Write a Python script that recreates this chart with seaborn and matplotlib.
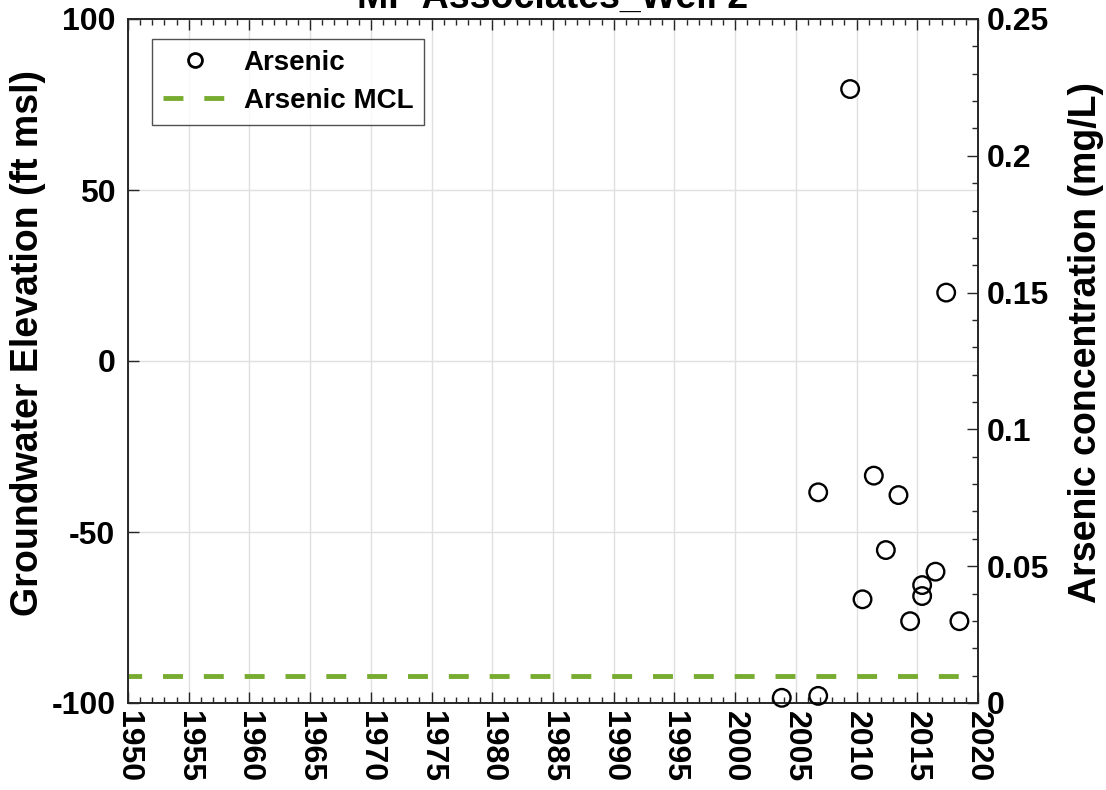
import numpy as np
import pandas as pd
import matplotlib
matplotlib.use("Agg")
import matplotlib.pyplot as plt
from matplotlib.ticker import MultipleLocator
from matplotlib.lines import Line2D
import seaborn as sns

# ---- data ----
title = "MP Associates_Well 2"
arsenic_years = [2003.84, 2006.84, 2006.84, 2009.47, 2010.49, 2011.42, 2012.41,
                 2013.45, 2014.41, 2015.4, 2015.4, 2016.5, 2017.38, 2018.47]
arsenic_values = [0.0019, 0.0026, 0.077, 0.2244, 0.0379, 0.0831, 0.0559,
                  0.076, 0.0299, 0.0391, 0.0431, 0.048, 0.150, 0.0299]
mcl_years = [1950, 2020]
mcl_values = [0.01, 0.01]
x_ticks = list(range(1950, 2021, 5))
left_ticks = [-100, -50, 0, 50, 100]
right_ticks = [0, 0.05, 0.1, 0.15, 0.2, 0.25]
right_ticklabels = ["0", "0.05", "0.1", "0.15", "0.2", "0.25"]

sns.set_style("white")
plt.rcParams['font.family'] = ['Liberation Sans', 'DejaVu Sans']
plt.rcParams['font.weight'] = 'bold'
plt.rcParams['text.color'] = 'black'
plt.rcParams['axes.labelcolor'] = 'black'
plt.rcParams['xtick.color'] = 'black'
plt.rcParams['ytick.color'] = 'black'

fig = plt.figure(figsize=(11.06, 7.9), dpi=100)
ax = fig.add_axes([128/1106, 1-703/790, 850/1106, 684/790])
ax2 = ax.twinx()

df = pd.DataFrame({"year": arsenic_years, "value": arsenic_values})
dmcl = pd.DataFrame({"year": mcl_years, "value": mcl_values})

green = "#77AC30"
dash = (1.3, (4.1, 4.3))
sns.lineplot(data=dmcl, x="year", y="value", ax=ax2, color=green, lw=3.5,
             linestyle=dash, zorder=2, legend=False)
sns.scatterplot(data=df, x="year", y="value", ax=ax2, marker="o", s=160,
                facecolors="none", edgecolor="black", linewidth=1.7, zorder=3,
                legend=False, clip_on=False)

ax.set_xlim(1950, 2020)
ax.set_ylim(-100, 100)
ax2.set_ylim(0, 0.25)
ax.set_xticks(x_ticks)
ax.set_xticklabels([str(t) for t in x_ticks], rotation=-90, fontsize=23, fontweight='bold')
ax.xaxis.set_minor_locator(MultipleLocator(1))
ax.set_yticks(left_ticks)
ax.set_yticklabels([str(t) for t in left_ticks], fontsize=23, fontweight='bold')
ax2.set_yticks(right_ticks)
ax2.set_yticklabels(right_ticklabels, fontsize=23, fontweight='bold')
ax2.yaxis.set_minor_locator(MultipleLocator(0.01))

ax.grid(True, which='major', color='#e0e0e0', lw=1)
ax.set_axisbelow(True)

tc = '#262626'
ax.tick_params(axis='x', which='both', direction='in', top=True, bottom=True,
               color=tc, pad=6)
ax.tick_params(axis='x', which='major', length=8, width=1)
ax.tick_params(axis='x', which='minor', length=4, width=1)
ax.tick_params(axis='y', which='major', direction='in', left=True, right=False,
               length=8, width=1, color=tc, pad=9)
ax2.tick_params(axis='y', which='major', direction='in', right=True, length=8,
                width=1, color=tc, pad=6)
ax2.tick_params(axis='y', which='minor', direction='in', right=True, length=4,
                width=1, color=tc)
for a in (ax, ax2):
    for s in a.spines.values():
        s.set_color(tc)
        s.set_linewidth(1.2)

ax.set_xlabel("")
ax.set_ylabel("Groundwater Elevation (ft msl)", fontsize=27, fontweight='bold')
ax.yaxis.set_label_coords((46-128)/850, (703-343)/684)
ax2.set_ylabel("Arsenic concentration (mg/L)", fontsize=27, fontweight='bold',
               rotation=90)
ax2.yaxis.set_label_coords((1068-128)/850, (703-343)/684)

fig.text(553/1106, 1-8/790, title, ha='center', va='baseline', fontsize=27,
         fontweight='bold')

handles = [Line2D([], [], marker='o', ls='none', mfc='none', mec='black', mew=2, ms=10),
           Line2D([], [], color=green, lw=3.5, ls=(0, (4.1, 4.3)))]
leg = ax2.legend(handles, ["Arsenic", "Arsenic MCL"], loc='upper left',
                 bbox_to_anchor=(24/850, 1-20/684), fontsize=20, frameon=True,
                 fancybox=False, edgecolor=tc, handlelength=2.3,
                 borderpad=0.4, labelspacing=0.42, handletextpad=0.6, borderaxespad=0)
leg.get_frame().set_linewidth(1)
for t in leg.get_texts():
    t.set_fontweight('bold')

fig.savefig("out.png", dpi=100)
